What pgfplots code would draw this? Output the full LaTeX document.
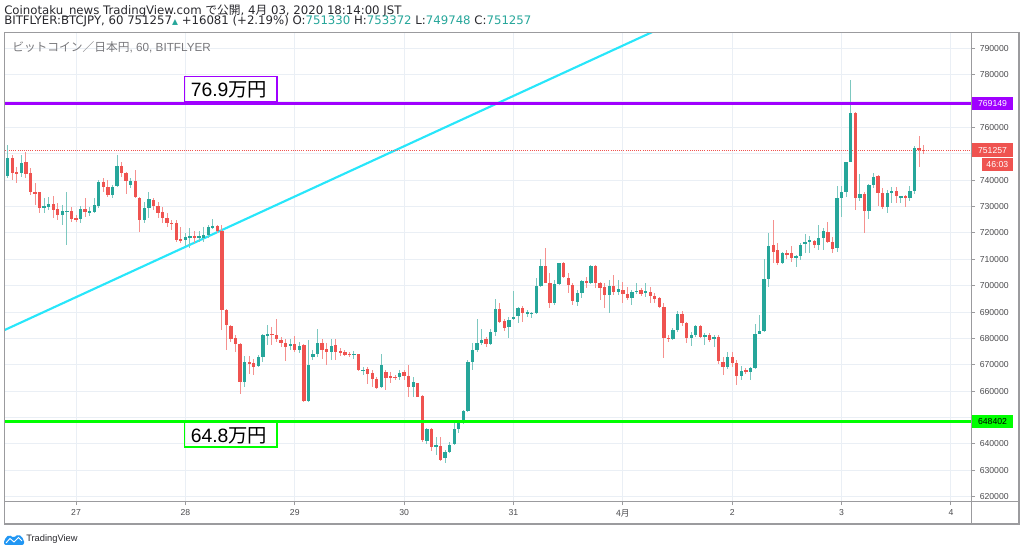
\documentclass[border=0pt]{standalone}
\usepackage{pgfplots}
\pgfplotsset{compat=1.18}
\usepackage{pgfplotstable}
\usepackage{fontspec}
\setmainfont{Liberation Sans}
\newfontfamily\jp{Noto Sans CJK JP}
\newfontfamily\dv{DejaVu Sans}
\definecolor{upc}{RGB}{38,166,154}
\definecolor{dnc}{RGB}{239,83,80}
\definecolor{upw}{RGB}{125,200,192}
\definecolor{dnw}{RGB}{245,145,143}
\definecolor{gridc}{RGB}{234,239,245}
\definecolor{framec}{RGB}{155,155,158}
\definecolor{purp}{RGB}{160,0,255}
\definecolor{lgreen}{RGB}{0,255,0}
\definecolor{cyanl}{RGB}{40,230,250}
\definecolor{tickc}{RGB}{75,75,78}
\definecolor{hdr}{RGB}{40,40,45}
\definecolor{tvblue}{RGB}{33,150,243}

\pgfplotstableread{
t o h l c
-15 741600 753300 741000 748300
-14 748300 749600 740000 742900
-13 743000 745100 738800 742500
-12 742600 749500 741300 746600
-11 747000 750800 740700 742400
-10 742600 744500 734400 735400
-9 735600 738800 730600 735000
-8 735600 735600 727400 729300
-7 729600 733100 727400 730200
-6 729700 733800 728700 731000
-5 731000 734000 725600 728700
-4 729000 731200 724900 726800
-3 726800 730600 723000 728300
-2 728000 735400 715400 728500
-1 728400 730000 724300 725100
0 725700 726800 724300 725100
1 725100 730200 723600 729200
2 729200 733100 726100 727900
3 727700 729700 726400 728300
4 728000 733100 727700 730600
5 730200 740000 729300 739200
6 739200 740700 735600 737500
7 737300 740000 733700 734400
8 734400 738200 733100 737500
9 737800 749600 737500 745500
10 745500 747000 741300 742600
11 742600 743200 734800 739800
12 738200 740700 737000 739700
13 739800 743900 733100 733800
14 733100 733700 720500 724900
15 725000 731800 723600 729600
16 729600 735600 725500 733000
17 732500 733100 728700 730200
18 730200 731800 725500 727700
19 728000 730000 723600 725500
20 725800 727400 722400 723900
21 723900 724900 721100 723400
22 723600 724900 716700 717300
23 717700 722400 716000 717000
24 717200 719800 714900 718300
25 718300 722000 714200 718800
26 718800 720800 716000 718000
27 718000 720800 716500 718800
28 718000 722400 716700 719200
29 719200 723000 718000 722100
30 722100 725100 721500 722600
31 722800 723000 719800 720800
32 720800 723000 683100 690700
33 690900 691200 675500 685000
34 684600 685000 678700 679600
35 680000 681200 674900 677700
36 677700 678100 659100 663500
37 663500 673200 661600 671100
38 671100 673400 666700 670200
39 670500 672300 666000 669200
40 669400 673600 669200 673000
41 673000 681800 671100 681200
42 680900 685000 677400 681800
43 681800 684400 677400 681400
44 681200 687500 678700 679600
45 679300 680600 676800 678400
46 678400 679900 671300 676800
47 677200 679600 675800 678000
48 678000 680800 674900 675500
49 675500 678700 674500 677000
50 677400 678000 655900 656300
51 656300 679300 655900 669800
52 673000 675500 672000 674200
53 674200 683700 673000 678300
54 678400 679900 672300 675500
55 676100 678300 669800 674900
56 674900 679900 671700 677000
57 677400 679900 671700 674900
58 675300 676500 673200 674500
59 674900 675500 673200 673900
60 674200 675000 673000 673900
61 673900 675300 672300 674200
62 674000 674200 667700 667900
63 667700 669200 666000 668200
64 668500 669200 662900 666700
65 666900 667900 661600 664800
66 664800 665400 661000 661400
67 661700 674100 661100 669900
68 667400 668000 660400 665100
69 665800 667400 663000 665100
70 665500 666200 664200 665100
71 665200 668000 664200 667000
72 667200 668000 664200 665900
73 665900 669900 657900 661700
74 661700 665500 657900 663600
75 663000 663000 657600 657900
76 658200 658600 640800 641500
77 641100 645900 640000 645500
78 645500 645900 637400 638700
79 638700 642700 635800 639600
80 639300 642700 633600 634100
81 634500 637700 632600 637000
82 637000 640800 636400 639600
83 640000 648400 639600 645500
84 645500 649100 644000 648000
85 648000 652900 647500 652500
86 652500 671800 652200 671200
87 671200 678100 668000 675600
88 675600 687200 675000 678100
89 678400 683400 677500 679400
90 679600 680400 676900 677700
91 677800 683400 677500 682600
92 682600 694800 680900 691000
93 691000 693300 685700 686300
94 686600 687500 683000 683800
95 684200 688200 680000 687000
96 687200 698000 687000 688200
97 688500 692000 685700 691400
98 691700 692300 686300 689500
99 689500 690800 688200 690100
100 689300 690100 687600 689800
101 689500 702800 689300 699900
102 699900 710000 699600 707500
103 707500 714200 700900 701100
104 701100 704700 691400 693300
105 693300 702100 692700 700500
106 700500 708700 700300 708500
107 708500 709100 702800 703200
108 703000 704700 697100 700300
109 700300 700900 692700 694200
110 694000 698400 692300 697100
111 697100 702100 695200 701900
112 701900 703400 699000 700900
113 700900 707800 700600 707500
114 707500 707800 699000 700900
115 700900 701500 694600 699200
116 699600 700900 691400 696500
117 696500 702100 689500 700000
118 700000 704000 696500 697500
119 697500 702100 696500 698600
120 698400 701500 693300 696700
121 696700 699600 694600 695400
122 695400 698400 692700 697700
123 697700 700900 696700 698100
124 698400 699000 696100 696800
125 697100 700900 695800 698000
126 697700 699600 693300 696100
127 696100 697100 693300 694900
128 695400 695800 691400 692000
129 692000 693300 672400 680000
130 680300 681300 678800 679800
131 679800 683800 679400 683200
132 683200 690500 682600 689300
133 689300 690500 684700 685700
134 685700 686300 678100 680000
135 680000 682600 677100 681300
136 681300 685100 680700 684700
137 684700 685100 680000 680700
138 680700 681900 677500 681300
139 681300 681900 678800 679400
140 679600 681300 676900 680700
141 680700 681300 670500 671600
142 671200 673100 666100 669300
143 669300 675000 668400 673100
144 673100 675000 669300 670800
145 670800 671800 662400 665700
146 665700 669500 664200 667600
147 668000 668700 666500 667400
148 667400 669300 664200 668700
149 668700 685400 668400 681500
150 681800 688900 681500 682800
151 682800 710000 682600 702400
152 702400 719900 699600 715000
153 715400 724800 708500 712900
154 713500 716000 707800 708700
155 708700 712900 708200 712300
156 712300 713500 710300 711700
157 712300 715000 709100 710600
158 710600 711700 707200 711300
159 711300 716000 709800 715400
160 715800 719600 712500 716400
161 716500 718800 712500 717300
162 717100 717300 714100 715400
163 715400 723000 713500 718000
164 718000 721800 713500 720800
165 720500 724000 716000 716400
166 716400 718600 712300 714100
167 714300 737600 712900 733200
168 733200 737800 725900 735700
169 735700 747000 733800 747000
170 747000 778000 746800 765300
171 765300 766000 728700 733400
172 733400 742400 732200 734800
173 734800 735700 720100 728400
174 728200 738500 725200 738300
175 738300 742600 736900 741100
176 741700 742100 730200 735100
177 735300 737000 729000 730000
178 730000 736300 727700 735300
179 735300 737400 731500 735700
180 735800 737600 731500 734000
181 733500 734000 731200 733900
182 733900 734500 730000 733300
183 733300 737600 732200 735800
184 735800 753000 734800 752100
185 752100 756800 744900 751300
186 751330 753372 749748 751257
}\candles

\pgfplotsset{candle/.style n args={2}{draw=none, mark=none, forget plot,
  error bars/.cd, y dir=both, y explicit, error mark=none,
  error bar style={line width=#1, draw=#2}}}

\begin{document}
\begin{tikzpicture}
\path[use as bounding box] (0,0) rectangle (768pt,414pt);
\begin{axis}[
  at={(3.525pt,37.725pt)}, anchor=south west, scale only axis,
  width=725.25pt, height=352.05pt,
  xmin=-15.65, xmax=196.55, ymin=618094, ymax=796066,
  axis line style={draw=none},
  grid=major, major grid style={draw=gridc, line width=0.75pt},
  xtick={0,24,48,72,96,120,144,168,192},
  xticklabels={27,28,29,30,31,{\jp 4月},2,3,4},
  ytick={620000,630000,640000,650000,660000,670000,680000,690000,700000,710000,720000,730000,740000,750000,760000,770000,780000,790000},
  yticklabels={620000,630000,640000,,660000,670000,680000,690000,700000,710000,720000,730000,740000,,760000,,780000,790000},
  scaled y ticks=false, scaled x ticks=false,
  yticklabel pos=right, ytick pos=right, xtick pos=bottom,
  tick align=outside, major tick length=2.5pt,
  tick style={draw=framec, line width=0.75pt},
  ticklabel style={font=\fontsize{6.5}{8}\selectfont, text=tickc},
]
% cyan trend line
\addplot[cyanl, line width=1.6pt] coordinates {(-15.65,683200) (140,806930)};
% last price line
\addplot[dnc, line width=0.6pt, densely dotted] coordinates {(-15.65,751257) (196.55,751257)};
% wicks
\addplot[candle={0.75pt}{upw}]
  table[x=t, y expr={\thisrow{c}>=\thisrow{o} ? (\thisrow{h}+\thisrow{l})/2 : nan},
        y error expr={(\thisrow{h}-\thisrow{l})/2}] {\candles};
\addplot[candle={0.75pt}{dnw}]
  table[x=t, y expr={\thisrow{c}<\thisrow{o} ? (\thisrow{h}+\thisrow{l})/2 : nan},
        y error expr={(\thisrow{h}-\thisrow{l})/2}] {\candles};
% bodies
\addplot[candle={2.5pt}{upc}]
  table[x=t, y expr={\thisrow{c}>=\thisrow{o} ? (\thisrow{o}+\thisrow{c})/2 : nan},
        y error expr={max(abs(\thisrow{c}-\thisrow{o})/2,230)}] {\candles};
\addplot[candle={2.5pt}{dnc}]
  table[x=t, y expr={\thisrow{c}<\thisrow{o} ? (\thisrow{o}+\thisrow{c})/2 : nan},
        y error expr={max(abs(\thisrow{c}-\thisrow{o})/2,230)}] {\candles};
\addplot[purp, line width=2.2pt] coordinates {(-15.65,769149) (196.55,769149)};
\addplot[lgreen, line width=2.2pt] coordinates {(-15.65,648402) (196.55,648402)};
\end{axis}

\begin{scope}[yshift=414pt, x=0.75pt, y=-0.75pt]
% frame
\draw[framec, line width=1.1pt] (4.7,32.3) rectangle (1019,524);
\draw[framec, line width=1.1pt] (971.7,32.3) -- (971.7,524);
\draw[framec, line width=1.1pt] (4.7,501.7) -- (1019,501.7);
% header
\node[anchor=base west, inner sep=0, text=hdr, font=\dv\fontsize{8.8}{10}\selectfont] at (4,15)
  {Coinotaku\_news TradingView.com {\jp で公開}, 4{\jp 月} 03, 2020 18:14:00 JST};
\node[anchor=base west, inner sep=0, text=hdr, font=\dv\fontsize{8.8}{10}\selectfont] at (4,24.8)
  {BITFLYER:BTCJPY, 60 751257{\fontsize{5.8}{6}\selectfont\color{upc}▲} +16081 (+2.19\%) O:{\color{upc}751330} H:{\color{upc}753372} L:{\color{upc}749748} C:{\color{upc}751257}};
\node[anchor=base west, inner sep=0, text={rgb,255:red,120;green,120;blue,124}, font=\fontsize{8.8}{10}\selectfont] at (12,51.5)
  {{\jp ビットコイン／日本円}, 60, BITFLYER};
% annotation boxes
\draw[purp, line width=1.2pt] (184.3,76.7) rectangle (276.7,101.7);
\node[inner sep=0, font=\fontsize{14.5}{16}\selectfont, text=black] at (229,89.6) {76.9{\jp 万円}};
\draw[lgreen, line width=1.2pt] (184.3,422.7) rectangle (276.7,447.3);
\node[inner sep=0, font=\fontsize{14.5}{16}\selectfont, text=black] at (229,435.4) {64.8{\jp 万円}};
% price labels
\fill[purp] (972,96.7) rectangle (1013,110);
\node[font=\fontsize{6.5}{8}\selectfont, text=white, inner sep=0] at (992.5,103.4) {769149};
\fill[dnc] (972,143.3) rectangle (1013,157.3);
\node[font=\fontsize{6.5}{8}\selectfont, text=white, inner sep=0] at (992.5,150.3) {751257};
\fill[dnc] (981.7,157.7) rectangle (1013,171);
\node[font=\fontsize{6.5}{8}\selectfont, text=white, inner sep=0] at (997.3,164.4) {46:03};
\fill[lgreen] (972,415) rectangle (1013,428);
\node[font=\fontsize{6.5}{8}\selectfont, text=black, inner sep=0] at (992.5,421.5) {648402};
% logo
\fill[tvblue, rounded corners=1.5] (4,545) -- (4,540) -- (9,534.5) -- (13.5,538) -- (18.5,534) -- (24,539.5) -- (24,545) -- cycle;
\draw[white, line width=0.7] (6,543) -- (10,538.5) -- (14,542) -- (18.5,537.5) -- (22,541);
\node[anchor=base west, inner sep=0, text=hdr, font=\fontsize{7}{8}\selectfont] at (26,541.5) {TradingView};
\end{scope}
\end{tikzpicture}
\end{document}
